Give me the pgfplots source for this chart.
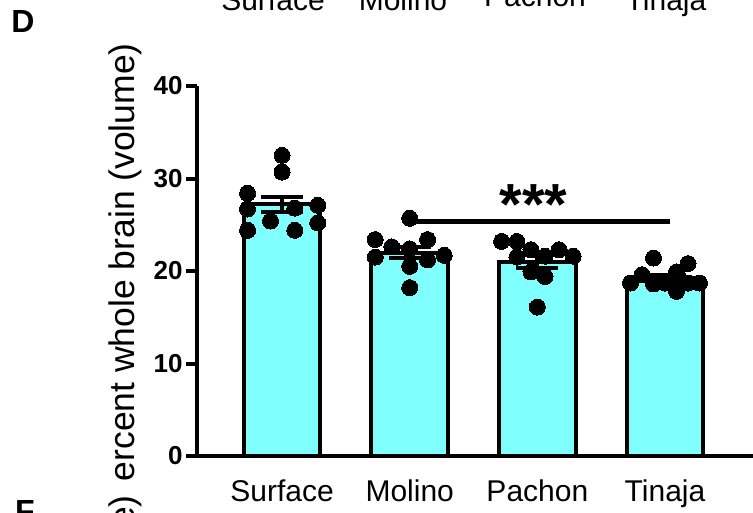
\documentclass[border=0pt]{standalone}
\usepackage{pgfplots}
\pgfplotsset{compat=1.18}
\usepackage{fontspec}
\setmainfont{Liberation Sans}
\definecolor{barcyan}{RGB}{128,255,255}
\pgfplotstableread{
x y e
0 27.2 0.85
1 22.0 0.63
2 21.0 0.68
3 19.25 0.35
}\means
\pgfplotstableread{
x y
0.00 32.5
0.00 30.7
-0.27 28.4
-0.27 26.7
-0.09 25.4
0.10 26.8
0.28 27.1
0.28 25.2
-0.27 24.4
0.10 24.4
1.00 25.7
0.73 23.4
0.86 22.6
1.00 22.4
1.14 23.4
0.73 21.5
1.27 21.7
1.14 21.2
1.00 20.5
1.00 18.2
1.72 23.2
1.84 23.2
1.95 22.3
1.84 21.5
2.06 21.6
2.17 22.3
2.28 21.6
1.95 19.9
2.06 19.4
2.00 16.1
2.91 21.4
3.18 20.8
3.09 19.9
2.82 19.6
2.73 18.7
2.91 18.6
3.00 18.7
3.18 18.7
3.27 18.7
3.09 17.8
}\points
\begin{document}
\begin{tikzpicture}[x=1pt,y=1pt]
\path[use as bounding box] (0,0) rectangle (753,512);
\clip (0,0) rectangle (753,512);
\begin{axis}[
  at={(197pt,56pt)}, anchor=south west,
  scale only axis, width=556pt, height=370pt,
  xmin=-0.666, xmax=3.689, ymin=0, ymax=40,
  axis x line=bottom, axis y line=left,
  axis line style={-, line width=4pt, black},
  ytick={0,10,20,30,40}, xtick={0,1,2,3},
  xticklabels={Surface,Molino,\raisebox{3pt}{Pachon},Tinaja},
  tick align=outside, major tick length=11pt,
  ytick style={line width=4pt, black},
  xtick style={draw=none},
  yticklabel style={font=\fontsize{26}{26}\selectfont\bfseries},
  xticklabel style={font=\fontsize{30}{30}\selectfont, yshift=-9pt},
  /pgf/number format/assume math mode=true,
  clip=false,
]
\addplot[ybar, bar width=0.6, fill=barcyan, draw=black, line width=4pt,
  error bars/.cd, y dir=both, y explicit,
  error bar style={line width=4pt, black},
  error mark=|,
  error mark options={line width=4pt, black, mark size=21pt}]
  table[x=x, y=y, y error=e] {\means};
\addplot[only marks, mark=*, mark size=8pt, black, mark options={fill=black, draw=black, line width=0pt}] table[x=x,y=y] {\points};
\addplot[black, line width=5pt, no marks] coordinates {(1,25.35) (3.04,25.35)};
\node[anchor=base, font=\fontsize{58}{58}\selectfont\bfseries] at (axis cs:1.97,25.0) {***};
\end{axis}
\node[rotate=90, anchor=base east, inner sep=0pt, font=\fontsize{35.5}{35.5}\selectfont] at (134,469) {Percent whole brain (volume)};
\fill[white] (60,0) rectangle (185,30);
\node[rotate=90, anchor=base east, inner sep=0pt, font=\fontsize{35.5}{35.5}\selectfont] at (134,17) {Percent whole brain (volume)};
\node[anchor=center, inner sep=0pt, font=\fontsize{32}{32}\selectfont\bfseries] at (23,490.5) {D};
\node[anchor=north west, inner sep=0pt, font=\fontsize{32}{32}\selectfont\bfseries] at (15,12) {F};
\begin{scope}[every node/.style={anchor=base, inner sep=0pt, font=\fontsize{30}{30}\selectfont}]
\node at (273,501.4) {Surface};
\node at (403,501.4) {Molino};
\node at (535,505) {Pachon};
\node at (666,501.4) {Tinaja};
\end{scope}
\end{tikzpicture}
\end{document}
